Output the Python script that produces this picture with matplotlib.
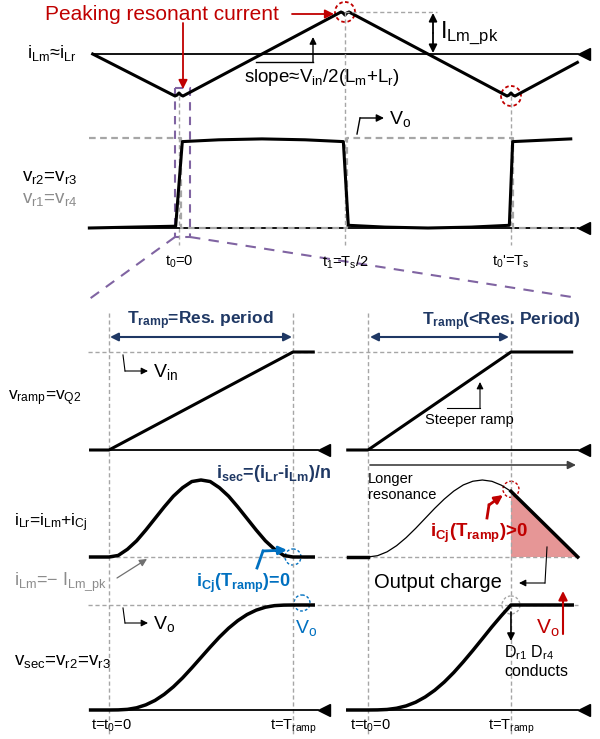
import matplotlib.pyplot as plt
from matplotlib.patches import Circle, Polygon, Rectangle

plt.rcParams['font.family'] = ['Liberation Sans', 'DejaVu Sans']
plt.rcParams['mathtext.fontset'] = 'custom'
plt.rcParams['mathtext.rm'] = 'Liberation Sans'
plt.rcParams['mathtext.it'] = 'Liberation Sans:italic'
plt.rcParams['mathtext.bf'] = 'Liberation Sans:bold'
plt.rcParams['mathtext.default'] = 'regular'

# ---------------- data ----------------
# top: magnetizing current (time in Ts, current in I_Lm_pk)
ilm_t = [-0.26, 0.0, 0.5, 1.0, 1.2]
ilm_v = [0.0, -1.0, 1.0, -1.0, -0.2]
# rectifier voltages (normalised to Vo)
vr2_t = [-0.27, -0.01, 0.01, 0.12, 0.25, 0.38, 0.495, 0.51, 0.62, 0.75, 0.88, 0.995, 1.005, 1.18]
vr2_v = [0.0, 0.02, 0.96, 0.98, 0.99, 0.98, 0.96, 0.03, 0.01, 0.0, 0.01, 0.03, 0.96, 0.99]
vr1_t = [-0.27, 0.005, 0.005, 0.505, 0.505, 1.005, 1.005, 1.2]
vr1_v = [1, 1, 0, 0, 1, 1, 0, 0]
top_ticks = [0.0, 0.5, 1.0]
top_tick_labels = ['$t_0$=0', '$t_1$=$T_s$/2', "$t_0$'=$T_s$"]

# bottom: time in units of the resonant period of the left case
t_ramp_left = 1.0
t_ramp_right = 0.777
ramp_t_left = [-0.1, 0.0, 1.0, 1.11]
ramp_t_right = [-0.11, 0.0, 0.777, 1.107]
ramp_v = [0, 0, 1, 1]

# resonant current bump (left), step 0.05
ilr_t_left = [-0.1] + [i * 0.05 for i in range(21)] + [1.11]
ilr_v_left = [0, 0, .02, .10, .21, .35, .50, .65, .79, .90, .98, 1,
              .98, .90, .79, .65, .50, .35, .21, .10, .02, 0, 0]
# longer resonance (right), step 0.0518
ilr_t_right = [i * 0.0518 for i in range(16)]
ilr_v_right = [0, .017, .067, .147, .251, .372, .502, .632, .752, .856,
               .936, .984, 1.0, .983, .932, .853]
charge_t = [0.777, 1.14]
charge_v = [0.853, 0.0]

# secondary voltage
vsec_t_left = [-0.1] + [i * 0.05 for i in range(21)] + [1.11]
vsec_v_left = [0, 0, .001, .006, .021, .049, .091, .149, .221, .306, .401, .5,
               .599, .694, .779, .851, .909, .951, .979, .994, .999, 1, 1]
vsec_t_right = [-0.11] + [i * 0.0518 for i in range(16)] + [1.11]
vsec_v_right = [0, 0, .001, .005, .017, .039, .074, .124, .188, .266, .357,
                .459, .567, .679, .792, .899, 1.0, 1.0]

# ---------------- layout (pixels) ----------------
def tx(t):
    return 179 + 332 * t

def iy(v):
    return 54 - 42 * v

def vry(v):
    return 228 - 90 * v

def lx(t):
    return 109 + 184 * t

def rx(t):
    return 368 + 184 * t

def ramp_y(v):
    return 450 - 98 * v

def ilr_y(v):
    return 557 - 77 * v

def vsec_y(v):
    return 710 - 105 * v

RED = '#c00000'
NAVY = '#1f3864'
BLUE = '#0070c0'
GRAY = '#a6a6a6'
GTXT = '#8c8c8c'
PURPLE = '#8064a2'
DASH = (0, (3, 2))

fig = plt.figure(figsize=(6, 7.39), dpi=100)
ax = fig.add_axes([0, 0, 1, 1])
ax.set_xlim(0, 600)
ax.set_ylim(739, 0)
ax.axis('off')


def arrow(p0, p1, color='k', lw=1.2, style='-|>', ms=10):
    ax.annotate('', xy=p1, xytext=p0,
                arrowprops=dict(arrowstyle=style, color=color, lw=lw,
                                mutation_scale=ms, shrinkA=0, shrinkB=0))


def axis_line(x0, x1, y):
    ax.plot([x0, x1], [y, y], color='k', lw=1.3)
    ax.plot(x1 + 6, y, marker='<', ms=8, color='k')


# ================= top panel =================
axis_line(93, 578, iy(0))
# triangle with a small wiggle at every extreme (drawn as on the sketch)
px, py = [], []
for k, (t, v) in enumerate(zip(ilm_t, ilm_v)):
    x, y = tx(t), iy(v)
    if 0 < k < len(ilm_t) - 1:
        d = 3 if v < 0 else -3
        px += [x - 4, x - 2, x, x + 2, x + 4]
        py += [y, y - d * 0.3, y - d, y - d * 0.3, y]
    else:
        px.append(x)
        py.append(y)
ax.plot(px, py, color='k', lw=2.2, solid_joinstyle='round')

for t in top_ticks:
    ytop = iy(1) if t == 0.5 else iy(-1)
    ax.plot([tx(t), tx(t)], [ytop, 245], color=GRAY, lw=1, ls=DASH)
ax.plot([tx(0.5), 437], [iy(1), iy(1)], color=GRAY, lw=1, ls=DASH)
arrow((433, 33), (433, iy(1) + 1), lw=1.3, ms=12)
arrow((433, 33), (433, iy(0) - 1), lw=1.3, ms=12)
ax.text(440, 33, '$I_{Lm\\_pk}$', fontsize=17, va='center', ha='left')

ax.add_patch(Circle((tx(0.5), iy(1)), 10, fill=False, ec=RED, lw=1.3, ls=(0, (2, 1.5))))
ax.add_patch(Circle((tx(1.0), iy(-1)), 10, fill=False, ec=RED, lw=1.3, ls=(0, (2, 1.5))))

ax.text(45, 14, 'Peaking resonant current', color=RED, fontsize=15, va='center', ha='left')
arrow((183, 23), (183, 89), color=RED, lw=1.3, ms=13)
arrow((292, 14), (334, 14), color=RED, lw=1.3, ms=13)

ax.text(27, 53, '$i_{Lm}$≈$i_{Lr}$', fontsize=13, va='center', ha='left')
ax.plot([256, 313], [62, 62], color='k', lw=1)
arrow((313, 62), (313, 37), lw=1, ms=10)
ax.text(244, 77, 'slope≈$V_{in}$/2($L_m$+$L_r$)', fontsize=13.5, va='center', ha='left')

# rectifier voltages
axis_line(90, 578, vry(0))
ax.plot([tx(t) for t in vr1_t], [vry(v) for v in vr1_v], color=GRAY, lw=1.6, ls=DASH)
ax.plot([tx(t) for t in vr2_t], [vry(v) for v in vr2_v], color='k', lw=2.2)
ax.text(22, 177, '$v_{r2}$=$v_{r3}$', fontsize=13.5, va='center', ha='left')
ax.text(22, 199, '$v_{r1}$=$v_{r4}$', fontsize=13.5, va='center', ha='left', color=GTXT)
ax.plot([357, 360], [134, 118], color='k', lw=1)
arrow((360, 118), (384, 118), lw=1, ms=11)
ax.text(389, 119, '$V_o$', fontsize=14, va='center', ha='left')
for t, lab in zip(top_ticks, top_tick_labels):
    ax.text(tx(t), 262, lab, fontsize=10.5, va='center', ha='center')

# zoom window
ax.add_patch(Rectangle((175, 88), 15, 149, fill=False, ec=PURPLE, lw=1.5, ls=(0, (4, 3))))
ax.plot([175, 88], [237, 300], color=PURPLE, lw=1.5, ls=(0, (5, 4)))
ax.plot([190, 578], [237, 298], color=PURPLE, lw=1.5, ls=(0, (5, 4)))

# ================= bottom panels =================
for x in [lx(0), lx(t_ramp_left), rx(0), rx(t_ramp_right)]:
    ax.plot([x, x], [313, 735], color=GRAY, lw=1, ls=DASH)
ax.plot([88, rx(t_ramp_right)], [ramp_y(1), ramp_y(1)], color=GRAY, lw=1, ls=DASH)
ax.plot([lx(0), 578], [ilr_y(0), ilr_y(0)], color=GRAY, lw=1, ls=DASH)
ax.plot([88, 578], [vsec_y(1), vsec_y(1)], color=GRAY, lw=1, ls=DASH)

# ramp row
axis_line(90, 318, ramp_y(0))
axis_line(348, 578, ramp_y(0))
ax.plot([lx(t) for t in ramp_t_left], [ramp_y(v) for v in ramp_v], color='k', lw=2.2)
ax.plot([rx(t) for t in ramp_t_right], [ramp_y(v) for v in ramp_v], color='k', lw=2.2)
ax.text(200, 321, '$T_{ramp}$=Res. period', fontsize=12.5, color=NAVY, fontweight='bold',
        va='center', ha='center')
arrow((200, 337), (lx(0) + 1, 337), color=NAVY, lw=1.5, ms=12)
arrow((200, 337), (lx(1) - 1, 337), color=NAVY, lw=1.5, ms=12)
ax.text(501, 322, '$T_{ramp}$(<Res. Period)', fontsize=12.5, color=NAVY, fontweight='bold',
        va='center', ha='center')
arrow((440, 337), (rx(0) + 2, 337), color=NAVY, lw=1.5, ms=12)
arrow((440, 337), (rx(t_ramp_right) - 2, 337), color=NAVY, lw=1.5, ms=12)
ax.plot([123, 125], [355, 371], color='k', lw=0.8)
arrow((125, 371), (148, 371), lw=0.8, ms=10)
ax.text(153, 372, '$V_{in}$', fontsize=14, va='center', ha='left')
ax.text(8, 398, '$v_{ramp}$=$v_{Q2}$', fontsize=12.5, va='center', ha='left')
ax.plot([447, 480], [408, 408], color='k', lw=0.8)
arrow((480, 408), (480, 382), lw=0.8, ms=10)
ax.text(425, 420, 'Steeper ramp', fontsize=10.5, va='center', ha='left')

# resonant current row
ax.plot([lx(t) for t in ilr_t_left], [ilr_y(v) for v in ilr_v_left], color='k', lw=2.5)
ax.plot([rx(-0.11), rx(0)], [ilr_y(0), ilr_y(0)], color='k', lw=2.5)
ax.plot([rx(t) for t in ilr_t_right], [ilr_y(v) for v in ilr_v_right], color='k', lw=0.9)
ax.add_patch(Polygon([(rx(charge_t[0]), ilr_y(charge_v[0])), (rx(charge_t[1]), ilr_y(charge_v[1])),
                      (rx(charge_t[0]), ilr_y(0))], closed=True, fc='#e69696', ec='none'))
ax.plot([rx(t) for t in charge_t], [ilr_y(v) for v in charge_v], color='k', lw=2.5)

arrow((370, 465), (576, 465), color='#404040', lw=1.2, ms=12)
ax.text(368, 487, 'Longer\nresonance', fontsize=10.5, va='center', ha='left', linespacing=1.15)
ax.text(216, 473, '$i_{sec}$=($i_{Lr}$-$i_{Lm}$)/n', fontsize=13, color=NAVY, fontweight='bold',
        va='center', ha='left')
ax.text(14, 523, '$i_{Lr}$=$i_{Lm}$+$i_{Cj}$', fontsize=12.5, va='center', ha='left')
ax.text(14, 582, '$i_{Lm}$=− $I_{Lm\\_pk}$', fontsize=13, va='center', ha='left', color=GTXT)
arrow((117, 578), (147, 559), color='#707070', lw=0.9, ms=11)

ax.text(196, 583, '$i_{Cj}$($T_{ramp}$)=0', fontsize=13, color=BLUE, fontweight='bold',
        va='center', ha='left')
ax.plot([257, 263], [568, 551], color=BLUE, lw=2)
arrow((263, 551), (287, 550), color=BLUE, lw=2, ms=12)
ax.add_patch(Circle((lx(1), ilr_y(0)), 8, fill=False, ec=BLUE, lw=1, ls=(0, (2, 1.5))))

ax.text(430, 533, '$i_{Cj}$($T_{ramp}$)>0', fontsize=13.5, color=RED, fontweight='bold',
        va='center', ha='left')
ax.plot([487, 489], [518, 505], color=RED, lw=2)
arrow((489, 505), (503, 495), color=RED, lw=2, ms=12)
ax.add_patch(Circle((rx(t_ramp_right), ilr_y(0.853) - 2), 8, fill=False, ec=RED, lw=1,
                    ls=(0, (2, 1.5))))
ax.text(374, 583, 'Output charge', fontsize=14.5, va='center', ha='left')
ax.plot([547, 545], [547, 583], color='k', lw=0.8)
arrow((545, 583), (519, 583), lw=0.8, ms=10)

# secondary voltage row
axis_line(90, 318, vsec_y(0))
axis_line(348, 578, vsec_y(0))
ax.plot([lx(t) for t in vsec_t_left], [vsec_y(v) for v in vsec_v_left], color='k', lw=2.5)
ax.plot([rx(t) for t in vsec_t_right], [vsec_y(v) for v in vsec_v_right], color='k', lw=2.5)
ax.plot([123, 125], [608, 623], color='k', lw=0.8)
arrow((125, 623), (148, 623), lw=0.8, ms=10)
ax.text(153, 624, '$V_o$', fontsize=14, va='center', ha='left')
ax.text(14, 662, '$v_{sec}$=$v_{r2}$=$v_{r3}$', fontsize=13.5, va='center', ha='left')
ax.add_patch(Circle((302, vsec_y(1) - 2), 8, fill=False, ec=BLUE, lw=1, ls=(0, (2, 1.5))))
ax.text(295, 628, '$V_o$', fontsize=14, va='center', ha='left', color=BLUE)
ax.add_patch(Circle((rx(t_ramp_right), vsec_y(1)), 9, fill=False, ec=GRAY, lw=1, ls=(0, (2, 1.5))))
arrow((rx(t_ramp_right), 612), (rx(t_ramp_right), 641), lw=1.2, ms=11)
ax.text(504, 653, '$D_{r1}$ $D_{r4}$', fontsize=11.5, va='center', ha='left')
ax.text(504, 672, 'conducts', fontsize=11.5, va='center', ha='left')
arrow((563, 634), (563, 591), color=RED, lw=1.5, ms=13)
ax.text(536, 628, '$V_o$', fontsize=15, va='center', ha='left', color=RED)

for xf in [lx, rx]:
    ax.text(xf(-0.1), 726, 't=$t_0$=0', fontsize=10.5, va='center', ha='left')
ax.text(lx(t_ramp_left), 727, 't=$T_{ramp}$', fontsize=10.5, va='center', ha='center')
ax.text(rx(t_ramp_right), 727, 't=$T_{ramp}$', fontsize=10.5, va='center', ha='center')

fig.savefig('out.png', dpi=100)
